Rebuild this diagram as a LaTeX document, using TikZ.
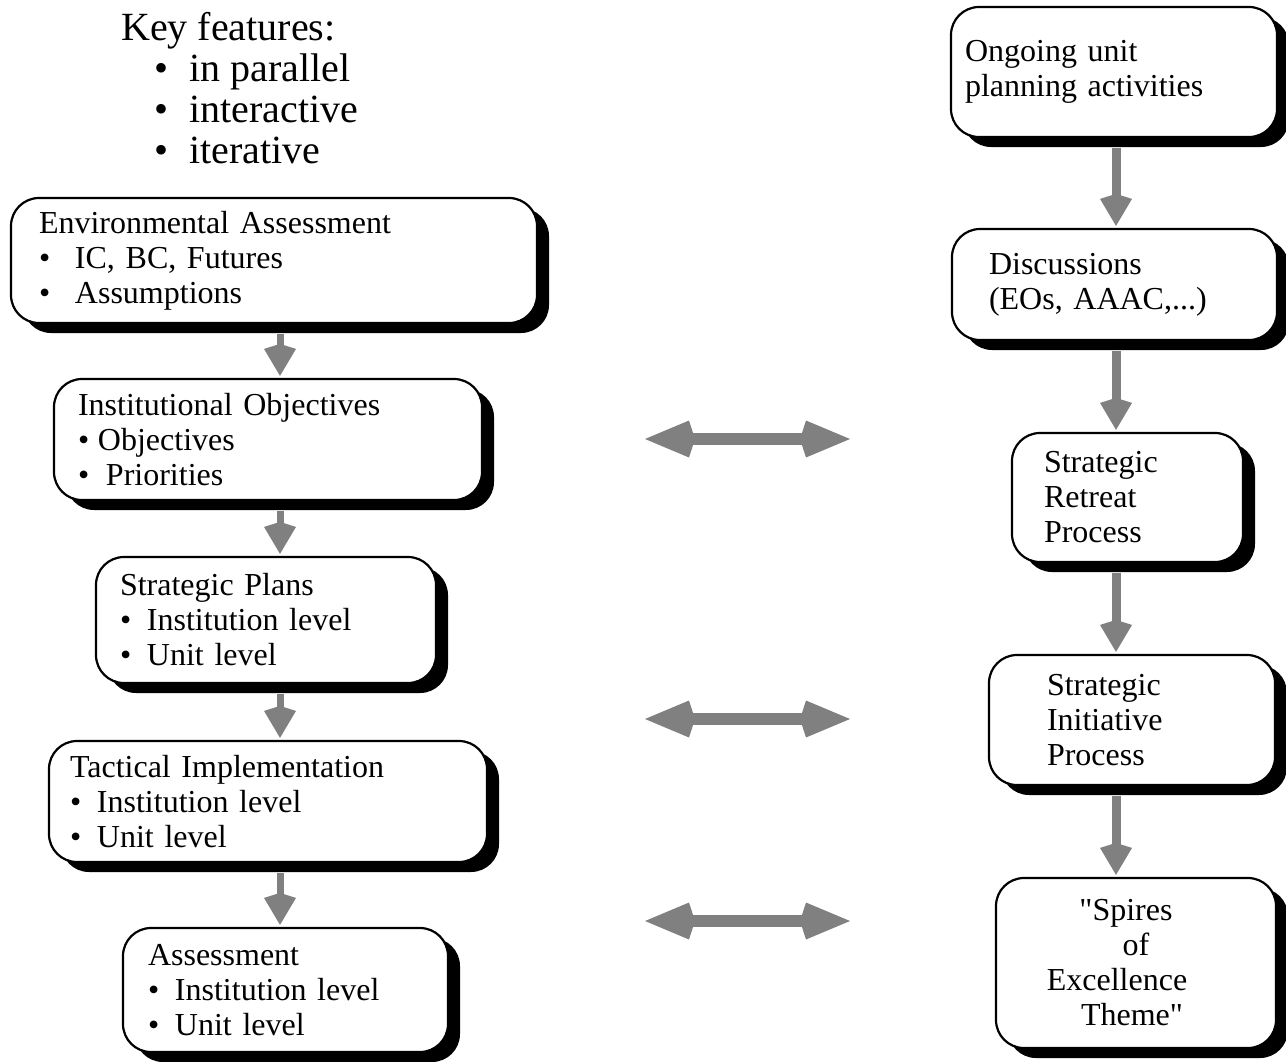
\documentclass[tikz,border=0pt]{standalone}
\usepackage{fontspec}
\setmainfont{Liberation Serif}[Ligatures=TeXOff]
\usetikzlibrary{arrows.meta, shadows}

\definecolor{arrowgray}{RGB}{128,128,128}
\newcommand{\itm}[1][27pt]{\makebox[#1][l]{\textbullet}}

\begin{document}
\begin{tikzpicture}[
    x=1pt, y=-1pt,
    box/.style={
        rectangle, rounded corners=28pt, draw=black, line width=2.2pt, fill=white,
        drop shadow={shadow xshift=12pt, shadow yshift=-10pt, fill=black, opacity=1},
        align=left, inner ysep=0pt,
        font=\fontsize{32}{35}\selectfont
    },
    flow/.style={-{Kite[length=32pt, width=32pt, inset=5pt]}, line width=#1, draw=arrowgray,
        shorten <=10pt, shorten >=2pt},
    flow/.default=8pt,
    link/.style={{Kite[length=50pt, width=37pt, inset=6pt]}-{Kite[length=50pt, width=37pt, inset=6pt]},
        line width=12pt, draw=arrowgray},
    keytext/.style={font=\fontsize{40}{41}\selectfont, align=left, inner sep=0pt}
]
\useasboundingbox (0,0) rectangle (1286,1061);

% Key features
\node[keytext, anchor=north west] (keyfeat) at (121,12) {Key features:\\
    \hspace*{33pt}\makebox[35pt][l]{\textbullet}in parallel\\
    \hspace*{33pt}\makebox[35pt][l]{\textbullet}interactive\\
    \hspace*{33pt}\makebox[35pt][l]{\textbullet}iterative};

% Left column
\node[box, text width=470pt, inner xsep=28pt, minimum height=125pt] (env) at (274,260.5)
    {Environmental Assessment\\\itm[36pt]IC, BC, Futures\\\itm[36pt]Assumptions};
\node[box, text width=380pt, inner xsep=24pt, minimum height=121pt] (obj) at (268,439.5)
    {Institutional Objectives\\\itm[20pt]Objectives\\\itm[28pt]Priorities};
\node[box, text width=292pt, inner xsep=24pt, minimum height=126pt] (plans) at (266,620)
    {Strategic Plans\\\itm Institution level\\\itm Unit level};
\node[box, text width=396pt, inner xsep=21pt, minimum height=121pt] (tact) at (268,801.5)
    {Tactical Implementation\\\itm Institution level\\\itm Unit level};
\node[box, text width=275pt, inner xsep=25pt, minimum height=124pt] (asmt) at (285.5,990)
    {Assessment\\\itm Institution level\\\itm Unit level};

% Right column
\node[box, text width=298pt, inner xsep=14pt, minimum height=130pt] (ongoing) at (1114,72)
    {Ongoing unit\\planning activities};
\node[box, text width=251pt, inner xsep=37pt, minimum height=111pt] (disc) at (1114.5,284.5)
    {Discussions\\(EOs, AAAC,...)};
\node[box, text width=167pt, inner xsep=32pt, minimum height=129pt] (retreat) at (1127.5,497.5)
    {Strategic\\Retreat\\Process};
\node[box, text width=170pt, inner xsep=58pt, minimum height=130pt] (init) at (1132,720)
    {Strategic\\Initiative\\Process};
\node[box, align=center, text width=240pt, inner xsep=20pt, minimum height=170pt] (spires) at (1136,963)
    {\hspace*{-20pt}"Spires\\of\\\hspace*{-38pt}Excellence\\\hspace*{-8pt}Theme"};

% Flow arrows
\coordinate (colL) at (280,0);
\coordinate (colR) at (1116,0);
\draw[flow=7pt] (env.south -| colL) -- (obj.north -| colL);
\draw[flow=7pt] (obj.south -| colL) -- (plans.north -| colL);
\draw[flow=7pt] (plans.south -| colL) -- (tact.north -| colL);
\draw[flow=7pt] (tact.south -| colL) -- (asmt.north -| colL);
\draw[flow=9pt] (ongoing.south -| colR) -- (disc.north -| colR);
\draw[flow=9pt] (disc.south -| colR) -- (retreat.north -| colR);
\draw[flow=9pt] (retreat.south -| colR) -- (init.north -| colR);
\draw[flow=9pt] (init.south -| colR) -- (spires.north -| colR);

% Links between the columns
\coordinate (lnkAw) at (645,439);
\coordinate (lnkAe) at (850,439);
\coordinate (lnkBw) at (645,719);
\coordinate (lnkBe) at (850,719);
\coordinate (lnkCw) at (645,921);
\coordinate (lnkCe) at (850,921);
\draw[link] (lnkAw) -- (lnkAe);
\draw[link] (lnkBw) -- (lnkBe);
\draw[link] (lnkCw) -- (lnkCe);

\end{tikzpicture}
\end{document}
